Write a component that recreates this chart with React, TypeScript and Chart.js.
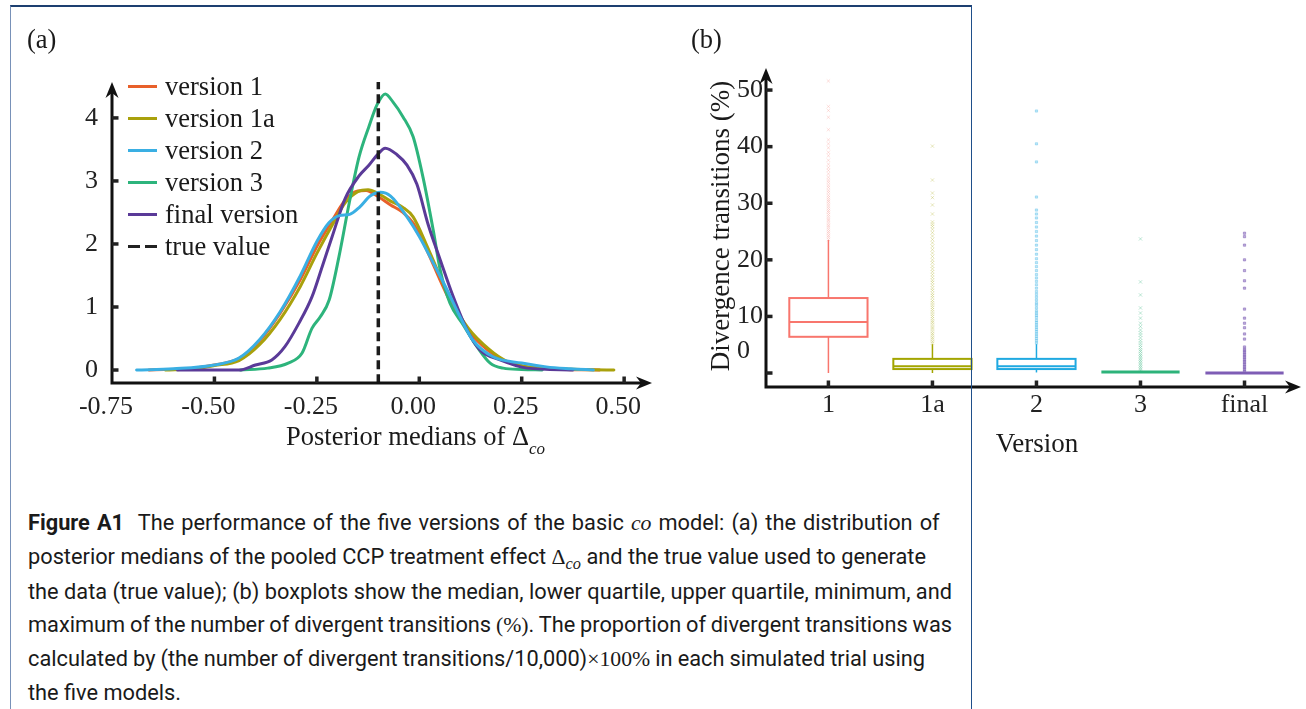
import React, { useEffect, useLayoutEffect, useRef } from 'react';
import { Chart, registerables } from 'chart.js';
Chart.register(...registerables);

// ---------------- data: panel (a) ----------------
const X_TICKS = [-0.75, -0.5, -0.25, 0, 0.25, 0.5];
const X_TICK_LABELS = ['-0.75', '-0.50', '-0.25', '0.00', '0.25', '0.50'];
const Y_TICKS = [0, 1, 2, 3, 4];
const Y_TICK_LABELS = ['0', '1', '2', '3', '4'];
const TRUE_VALUE = -0.1;

const V1_X = [-0.66, -0.55, -0.5, -0.44, -0.39, -0.34, -0.29, -0.25, -0.21, -0.18, -0.15, -0.13, -0.1, -0.07, -0.04, -0.015, 0.02, 0.05, 0.08, 0.12, 0.17, 0.21, 0.25, 0.3, 0.36, 0.44];
const V1_Y = [0, 0.03, 0.08, 0.18, 0.46, 0.9, 1.44, 1.96, 2.4, 2.7, 2.84, 2.85, 2.75, 2.62, 2.5, 2.33, 1.88, 1.44, 1.03, 0.62, 0.3, 0.14, 0.06, 0.03, 0.01, 0];

const V1A_X = [-0.62, -0.55, -0.5, -0.44, -0.39, -0.34, -0.29, -0.25, -0.21, -0.18, -0.15, -0.125, -0.1, -0.07, -0.04, -0.015, 0.02, 0.05, 0.08, 0.12, 0.17, 0.21, 0.25, 0.29, 0.35, 0.42, 0.475];
const V1A_Y = [0, 0.02, 0.07, 0.15, 0.4, 0.8, 1.33, 1.85, 2.33, 2.66, 2.83, 2.86, 2.8, 2.68, 2.58, 2.43, 1.95, 1.5, 1.08, 0.66, 0.33, 0.15, 0.07, 0.03, 0.015, 0.005, 0];

const V2_X = [-0.69, -0.6, -0.5, -0.44, -0.39, -0.34, -0.29, -0.25, -0.22, -0.195, -0.17, -0.145, -0.12, -0.095, -0.07, -0.03, 0.0, 0.034, 0.068, 0.1, 0.13, 0.18, 0.25, 0.31, 0.37, 0.425];
const V2_Y = [0, 0.02, 0.08, 0.19, 0.48, 0.92, 1.5, 2.04, 2.34, 2.45, 2.47, 2.59, 2.76, 2.82, 2.76, 2.43, 2.12, 1.7, 1.27, 0.84, 0.48, 0.21, 0.11, 0.05, 0.02, 0];

const V3_X = [-0.437, -0.37, -0.32, -0.286, -0.262, -0.242, -0.22, -0.196, -0.171, -0.147, -0.123, -0.103, -0.083, -0.064, -0.04, -0.015, 0.009, 0.034, 0.051, 0.075, 0.107, 0.141, 0.173, 0.205, 0.25, 0.3];
const V3_Y = [0, 0.03, 0.11, 0.27, 0.66, 0.84, 1.11, 1.8, 2.65, 3.38, 3.86, 4.21, 4.38, 4.25, 4.02, 3.7, 3.06, 2.22, 1.59, 1.06, 0.72, 0.37, 0.11, 0.03, 0.01, 0];

const VF_X = [-0.59, -0.44, -0.4, -0.36, -0.328, -0.294, -0.262, -0.237, -0.213, -0.181, -0.147, -0.123, -0.103, -0.083, -0.055, -0.03, -0.006, 0.022, 0.051, 0.083, 0.117, 0.148, 0.197, 0.263, 0.375];
const VF_Y = [0, 0, 0.08, 0.16, 0.37, 0.74, 1.16, 1.64, 2.11, 2.72, 3.08, 3.25, 3.41, 3.52, 3.42, 3.25, 2.95, 2.3, 1.75, 1.16, 0.63, 0.32, 0.16, 0.03, 0];

const LEGEND_NAMES = ['version 1', 'version 1a', 'version 2', 'version 3', 'final version', 'true value'];

// ---------------- data: panel (b) ----------------
const CATEGORIES = ['1', '1a', '2', '3', 'final'];
const BOX_MIN = [0, 0, 0.1, 0.18, 0];
const BOX_Q1 = [6.4, 0.7, 0.7, 0.18, 0];
const BOX_MEDIAN = [9.0, 1.2, 1.2, 0.18, 0];
const BOX_Q3 = [13.25, 2.5, 2.5, 0.18, 0];
const BOX_MAX = [23.5, 5.1, 5.1, 0.18, 0];

const OUT_1 = [23.6, 24.0, 24.3, 24.7, 25.0, 25.4, 25.8, 26.1, 26.5, 26.9, 27.2, 27.6, 28.0, 28.4, 28.7, 29.1, 29.5, 29.9, 30.3, 30.6, 31.0, 31.4, 31.9, 32.3, 32.8, 33.2, 33.7, 34.1, 34.6, 35.2, 35.8, 36.3, 36.9, 37.6, 38.4, 39.0, 39.8, 40.5, 41.2, 43.0, 45.2, 46.4, 47.1, 51.6];
const OUT_1A = [5.3, 5.6, 6.0, 6.3, 6.7, 7.0, 7.4, 7.8, 8.1, 8.5, 8.9, 9.2, 9.6, 10.0, 10.4, 10.8, 11.2, 11.6, 12.0, 12.4, 12.8, 13.3, 13.7, 14.1, 14.6, 15.0, 15.5, 16.0, 16.4, 16.9, 17.4, 17.9, 18.4, 18.9, 19.5, 20.0, 20.6, 21.2, 21.8, 22.4, 23.0, 23.6, 24.2, 24.8, 25.4, 25.9, 26.3, 26.7, 28.1, 29.7, 31.0, 31.8, 34.1, 40.1];
const OUT_2 = [5.3, 5.7, 6.1, 6.5, 6.9, 7.3, 7.7, 8.1, 8.5, 8.9, 9.3, 9.8, 10.2, 10.6, 11.0, 11.5, 12.0, 12.4, 12.9, 13.4, 13.9, 14.4, 15.0, 15.6, 16.2, 16.8, 17.4, 18.1, 18.8, 19.5, 20.2, 21.0, 21.8, 22.6, 23.4, 24.2, 25.0, 25.8, 26.6, 27.4, 28.1, 28.8, 31.1, 37.3, 40.5, 46.3];
const OUT_3 = [0.4, 0.7, 1.0, 1.3, 1.6, 1.9, 2.2, 2.5, 2.8, 3.1, 3.4, 3.8, 4.1, 4.5, 4.9, 5.3, 5.7, 6.2, 6.7, 7.1, 7.6, 8.2, 8.8, 9.7, 10.6, 11.5, 13.8, 16.1, 23.7];
const OUT_F = [0.3, 0.6, 0.9, 1.2, 1.5, 1.8, 2.1, 2.4, 2.7, 3.0, 3.3, 3.6, 3.9, 4.2, 4.6, 6.0, 6.9, 8.0, 8.8, 9.7, 11.3, 15.0, 16.3, 18.1, 20.0, 22.6, 24.1, 24.7];
const OUTLIERS = [OUT_1, OUT_1A, OUT_2, OUT_3, OUT_F];

const DIV_Y_TICKS = [0, 10, 20, 30, 40, 50];
const DIV_Y_TICK_LABELS = ['', '10', '20', '30', '40', '50'];
const ZERO_LABEL = '0';
const ZERO_LABEL_VALUE = 3.8;

// ---------------- styles ----------------
const SERIF = "'Liberation Serif', 'Times New Roman', serif";
const C_V1 = '#E8602A';
const C_V1A = '#A9A10C';
const C_V2 = '#3AAFE3';
const C_V3 = '#2DB47C';
const C_VF = '#5A3A98';
const LEGEND_COLORS = [C_V1, C_V1A, C_V2, C_V3, C_VF, '#222'];

const BOX_COLORS = ['#F8766D', '#A3A500', '#1FA9E1', '#2DB37A', '#7E5DB5'];
const OUT_COLORS = ['rgba(248,118,109,0.22)', 'rgba(163,165,0,0.25)', 'rgba(31,169,225,0.28)', 'rgba(45,179,122,0.3)', 'rgba(126,93,181,0.5)'];
const OUT_STYLES = ['crossRot', 'crossRot', 'rect', 'crossRot', 'rect'];
const BOX_LINE = [2, 2, 2, 3, 3];
const BOX_WIDTH = 0.752;
const TEXT_SIZE = 26.5;
const TICK_SIZE = 26;

const CAPTION_TARGETS = [910, 898, 924, 924, 897];

const pts = (xs: number[], ys: number[]) => xs.map((x, i) => ({ x, y: ys[i] }));

const arrowAxes = (xTicks: number[], yTicks: number[]) => ({
  id: 'arrowAxes',
  afterDraw(chart: any) {
    const { ctx, chartArea: a, scales } = chart;
    const x = scales.x, y = scales.y;
    const ox = a.left, oy = a.bottom;
    ctx.save();
    ctx.strokeStyle = '#111';
    ctx.fillStyle = '#111';
    ctx.lineWidth = 3;
    ctx.lineCap = 'butt';
    ctx.beginPath();
    ctx.moveTo(ox - 1.5, oy);
    ctx.lineTo(a.right - 10, oy);
    ctx.moveTo(ox, oy + 1.5);
    ctx.lineTo(ox, a.top + 10);
    ctx.stroke();
    ctx.beginPath();
    ctx.moveTo(a.right, oy);
    ctx.lineTo(a.right - 16, oy - 6.5);
    ctx.lineTo(a.right - 11, oy);
    ctx.lineTo(a.right - 16, oy + 6.5);
    ctx.closePath();
    ctx.fill();
    ctx.beginPath();
    ctx.moveTo(ox, a.top);
    ctx.lineTo(ox - 6.5, a.top + 16);
    ctx.lineTo(ox, a.top + 11);
    ctx.lineTo(ox + 6.5, a.top + 16);
    ctx.closePath();
    ctx.fill();
    ctx.fillStyle = '#222';
    yTicks.forEach((v) => {
      const py = y.getPixelForValue(v);
      ctx.fillRect(ox, py - 1.75, 6.5, 3.5);
    });
    xTicks.forEach((v) => {
      const px = x.getPixelForValue(v);
      if (px > ox + 3) ctx.fillRect(px - 1.75, oy - 6.5, 3.5, 6.5);
    });
    ctx.restore();
  },
});

const boxplotPlugin = {
  id: 'boxplot',
  afterDatasetsDraw(chart: any) {
    const { ctx, scales } = chart;
    const x = scales.x, y = scales.y;
    ctx.save();
    CATEGORIES.forEach((_, i) => {
      const l = x.getPixelForValue(i - BOX_WIDTH / 2);
      const r = x.getPixelForValue(i + BOX_WIDTH / 2);
      const c = x.getPixelForValue(i);
      const yMin = y.getPixelForValue(BOX_MIN[i]);
      const yQ1 = y.getPixelForValue(BOX_Q1[i]);
      const yMed = y.getPixelForValue(BOX_MEDIAN[i]);
      const yQ3 = y.getPixelForValue(BOX_Q3[i]);
      const yMax = y.getPixelForValue(BOX_MAX[i]);
      ctx.strokeStyle = BOX_COLORS[i];
      ctx.lineWidth = 1.5;
      if (BOX_MAX[i] > BOX_Q3[i]) {
        ctx.beginPath();
        ctx.moveTo(c, yQ3);
        ctx.lineTo(c, yMax);
        ctx.stroke();
      }
      if (BOX_Q1[i] > BOX_MIN[i]) {
        ctx.beginPath();
        ctx.moveTo(c, yQ1);
        ctx.lineTo(c, yMin);
        ctx.stroke();
      }
      ctx.lineWidth = BOX_LINE[i];
      if (BOX_Q3[i] > BOX_Q1[i]) ctx.strokeRect(l, yQ3, r - l, yQ1 - yQ3);
      ctx.beginPath();
      ctx.moveTo(l, yMed);
      ctx.lineTo(r, yMed);
      ctx.stroke();
    });
    ctx.font = `${TICK_SIZE}px ${SERIF}`;
    ctx.fillStyle = '#222';
    ctx.textBaseline = 'middle';
    ctx.textAlign = 'left';
    const w10 = ctx.measureText('10').width;
    ctx.fillText(ZERO_LABEL, y.right - 3 - w10, y.getPixelForValue(ZERO_LABEL_VALUE));
    ctx.restore();
  },
};

const tickFont = { family: SERIF, size: TICK_SIZE };

export default function App() {
  const leftRef = useRef<HTMLCanvasElement>(null);
  const rightRef = useRef<HTMLCanvasElement>(null);
  const capRef = useRef<HTMLDivElement>(null);
  const lineRefs = useRef<(HTMLSpanElement | null)[]>([]);

  useLayoutEffect(() => {
    document.body.style.margin = '0';
    const cap = capRef.current;
    const l3 = lineRefs.current[2];
    if (cap && l3) {
      const w3 = l3.getBoundingClientRect().width;
      if (w3 > 0) cap.style.fontSize = (18 * CAPTION_TARGETS[2]) / w3 + 'px';
    }
    lineRefs.current.forEach((el, i) => {
      if (!el || CAPTION_TARGETS[i] == null) return;
      const w = el.getBoundingClientRect().width;
      const text = el.textContent || '';
      const spaces = (text.match(/ /g) || []).length;
      if (spaces > 0) el.style.wordSpacing = (CAPTION_TARGETS[i] - w) / spaces + 'px';
    });
  }, []);

  useEffect(() => {
    const common = (color: string, order: number, xs: number[], ys: number[], label: string) => ({
      label,
      data: pts(xs, ys),
      borderColor: color,
      borderWidth: 3,
      pointRadius: 0,
      cubicInterpolationMode: 'monotone' as const,
      borderCapStyle: 'round' as const,
      borderJoinStyle: 'round' as const,
      order,
    });
    const left = new Chart(leftRef.current!, {
      type: 'line',
      data: {
        datasets: [
          {
            label: LEGEND_NAMES[5],
            data: [{ x: TRUE_VALUE, y: -0.21 }, { x: TRUE_VALUE, y: 4.58 }],
            borderColor: '#1b1b1b',
            borderWidth: 3.5,
            borderDash: [9, 5],
            pointRadius: 0,
            order: 0,
          },
          common(C_V2, 1, V2_X, V2_Y, LEGEND_NAMES[2]),
          common(C_VF, 2, VF_X, VF_Y, LEGEND_NAMES[4]),
          common(C_V3, 3, V3_X, V3_Y, LEGEND_NAMES[3]),
          common(C_V1A, 4, V1A_X, V1A_Y, LEGEND_NAMES[1]),
          common(C_V1, 5, V1_X, V1_Y, LEGEND_NAMES[0]),
        ] as any,
      },
      options: {
        animation: false,
        responsive: false,
        layout: { padding: { top: 82, right: 28, left: 0, bottom: 0 } },
        plugins: { legend: { display: false }, tooltip: { enabled: false } },
        scales: {
          x: {
            type: 'linear',
            min: -0.75,
            max: 0.568,
            afterBuildTicks: (s: any) => { s.ticks = X_TICKS.map((v) => ({ value: v })); },
            afterFit: (s: any) => { s.height = 87; },
            grid: { display: false, drawTicks: false },
            border: { display: false },
            ticks: {
              callback: (v: any) => X_TICK_LABELS[X_TICKS.indexOf(Number(v))] ?? '',
              font: tickFont,
              color: '#222',
              padding: 9,
              labelOffset: -6,
              maxRotation: 0,
              autoSkip: false,
            },
          },
          y: {
            type: 'linear',
            min: -0.206,
            max: 4.57,
            afterBuildTicks: (s: any) => { s.ticks = Y_TICKS.map((v) => ({ value: v })); },
            afterFit: (s: any) => { s.width = 112; },
            grid: { display: false, drawTicks: false },
            border: { display: false },
            ticks: {
              callback: (v: any) => Y_TICK_LABELS[Y_TICKS.indexOf(Number(v))] ?? '',
              font: tickFont,
              color: '#222',
              padding: 14,
              autoSkip: false,
            },
          },
        },
      } as any,
      plugins: [arrowAxes(X_TICKS, Y_TICKS)],
    });

    const right = new Chart(rightRef.current!, {
      type: 'scatter',
      data: {
        datasets: OUTLIERS.map((arr, i) => ({
          label: CATEGORIES[i],
          data: arr.map((v) => ({ x: i, y: v })),
          pointStyle: OUT_STYLES[i],
          pointRadius: OUT_STYLES[i] === 'rect' ? 1.6 : 2.4,
          pointBorderWidth: 1,
          borderColor: OUT_COLORS[i],
          backgroundColor: OUT_COLORS[i],
        })) as any,
      },
      options: {
        animation: false,
        responsive: false,
        layout: { padding: { top: 68, right: 1, left: 0, bottom: 0 } },
        plugins: { legend: { display: false }, tooltip: { enabled: false } },
        scales: {
          x: {
            type: 'linear',
            min: -0.6,
            max: 4.543,
            afterBuildTicks: (s: any) => { s.ticks = CATEGORIES.map((_, i) => ({ value: i })); },
            afterFit: (s: any) => { s.height = 83; },
            grid: { display: false, drawTicks: false },
            border: { display: false },
            ticks: {
              callback: (v: any) => CATEGORIES[Number(v)] ?? '',
              font: tickFont,
              color: '#222',
              padding: 3,
              maxRotation: 0,
              autoSkip: false,
            },
          },
          y: {
            type: 'linear',
            min: -2.47,
            max: 53.9,
            afterBuildTicks: (s: any) => { s.ticks = DIV_Y_TICKS.map((v) => ({ value: v })); },
            afterFit: (s: any) => { s.width = 86; },
            grid: { display: false, drawTicks: false },
            border: { display: false },
            ticks: {
              callback: (v: any) => DIV_Y_TICK_LABELS[DIV_Y_TICKS.indexOf(Number(v))] ?? '',
              font: tickFont,
              color: '#222',
              padding: 3,
              autoSkip: false,
            },
          },
        },
      } as any,
      plugins: [boxplotPlugin, arrowAxes(CATEGORIES.map((_, i) => i), DIV_Y_TICKS)],
    });
    return () => {
      left.destroy();
      right.destroy();
    };
  }, []);

  const serifText: React.CSSProperties = { fontFamily: SERIF, fontSize: TEXT_SIZE, color: '#1a1a1a', lineHeight: '30px', position: 'absolute', whiteSpace: 'nowrap' };
  const mathSpan: React.CSSProperties = { fontFamily: SERIF };
  const setRef = (i: number) => (el: HTMLSpanElement | null) => { lineRefs.current[i] = el; };

  return (
    <div style={{ position: 'relative', width: 1306, height: 709, overflow: 'hidden', background: '#fff' }}>
      <canvas ref={leftRef} width={680} height={470} style={{ position: 'absolute', left: 0, top: 0 }} />
      <canvas ref={rightRef} width={626} height={470} style={{ position: 'absolute', left: 680, top: 0 }} />

      <div style={{ ...serifText, left: 27, top: 24 }}>(a)</div>
      <div style={{ ...serifText, left: 691, top: 24 }}>(b)</div>

      <div style={{ position: 'absolute', left: 128, top: 70 }}>
        {LEGEND_NAMES.map((n, i) => (
          <div key={n} style={{ display: 'flex', alignItems: 'center', height: 32 }}>
            {i < 5 ? (
              <div style={{ width: 29, height: 3, background: LEGEND_COLORS[i], marginRight: 8 }} />
            ) : (
              <div style={{ width: 29, height: 3, marginRight: 8, display: 'flex', justifyContent: 'space-between' }}>
                <div style={{ width: 12, height: 3, background: '#222' }} />
                <div style={{ width: 12, height: 3, background: '#222' }} />
              </div>
            )}
            <span style={{ fontFamily: SERIF, fontSize: TEXT_SIZE, color: '#1a1a1a', lineHeight: '32px', whiteSpace: 'nowrap' }}>{n}</span>
          </div>
        ))}
      </div>

      <div style={{ ...serifText, left: 286, top: 421 }}>
        Posterior medians of Δ
        <span style={{ fontStyle: 'italic', fontSize: 17, position: 'relative', top: 9 }}>co</span>
      </div>

      <div style={{ ...serifText, left: 937, width: 200, textAlign: 'center', top: 428, fontSize: 27 }}>Version</div>
      <div style={{ ...serifText, left: 720, top: 226, fontSize: 27, transform: 'translate(-50%, -50%) rotate(-90deg)' }}>
        Divergence transitions (%)
      </div>

      <div
        ref={capRef}
        style={{ position: 'absolute', left: 28, top: 506, fontFamily: "Roboto, 'Liberation Sans', sans-serif", fontSize: 18, lineHeight: '33.3px', color: '#1a1a1a', whiteSpace: 'nowrap' }}
      >
        <div><span ref={setRef(0)}><b>Figure A1</b>&nbsp; The performance of the five versions of the basic <i style={mathSpan}>co</i> model: (a) the distribution of</span></div>
        <div><span ref={setRef(1)}>posterior medians of the pooled CCP treatment effect <span style={mathSpan}>Δ</span><sub style={{ ...mathSpan, fontStyle: 'italic', fontSize: '0.75em', lineHeight: 0 }}>co</sub> and the true value used to generate</span></div>
        <div><span ref={setRef(2)}>the data (true value); (b) boxplots show the median, lower quartile, upper quartile, minimum, and</span></div>
        <div><span ref={setRef(3)}>maximum of the number of divergent transitions <span style={mathSpan}>(%)</span>. The proportion of divergent transitions was</span></div>
        <div><span ref={setRef(4)}>calculated by (the number of divergent transitions/10,000)<span style={mathSpan}>×100%</span> in each simulated trial using</span></div>
        <div><span ref={setRef(5)}>the five models.</span></div>
      </div>

      <div
        style={{
          position: 'absolute', left: 10, top: 5, width: 962, height: 720, boxSizing: 'border-box',
          borderTop: '2px solid #1d3f70', borderLeft: '1px solid #7891b8', borderRight: '1px solid #1f4f8a',
          pointerEvents: 'none',
        }}
      />
    </div>
  );
}
